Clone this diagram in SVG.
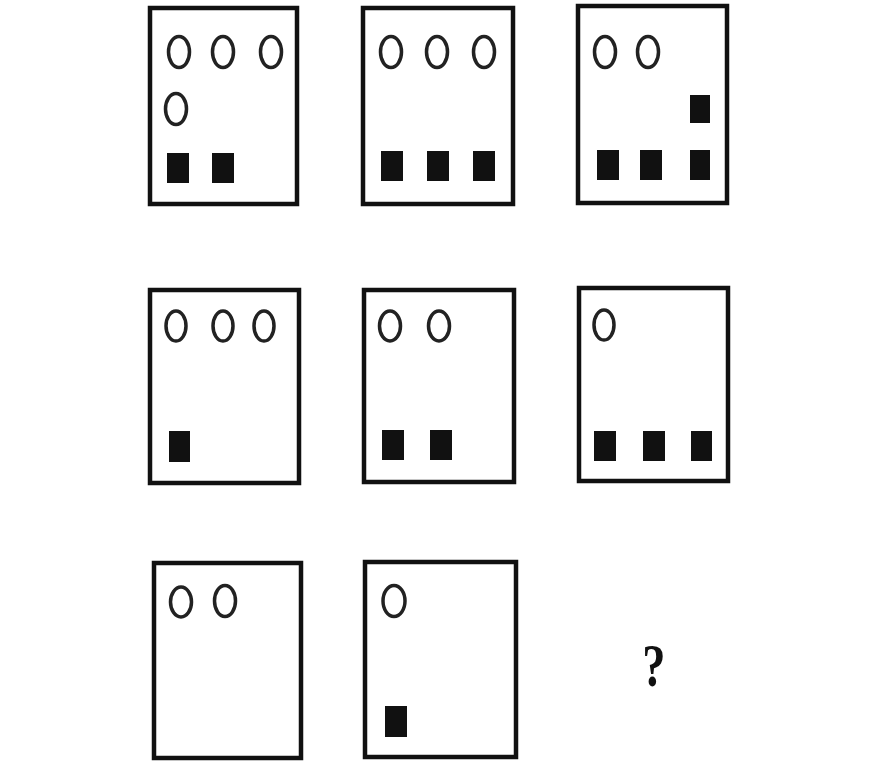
<svg xmlns="http://www.w3.org/2000/svg" width="875" height="783" viewBox="0 0 875 783">
<style>
.box{fill:#fff;stroke:#111;stroke-width:4.5}
.o{fill:none;stroke:#222;stroke-width:3.5}
.s{fill:#111}
.q{font-family:"Liberation Serif",serif;font-weight:bold;font-size:62px;fill:#111}
</style>
<rect width="875" height="783" fill="#fff"/>
<g id="p1">
<rect class="box" x="150" y="8" width="147" height="196"/>
<ellipse class="o" cx="179" cy="52" rx="10.5" ry="15.5"/>
<ellipse class="o" cx="223" cy="52" rx="10.5" ry="15.5"/>
<ellipse class="o" cx="271" cy="52" rx="10.5" ry="15.5"/>
<ellipse class="o" cx="176" cy="109" rx="10.5" ry="15.5"/>
<rect class="s" x="167" y="153" width="22" height="30"/>
<rect class="s" x="212" y="153" width="22" height="30"/>
</g>
<g id="p2">
<rect class="box" x="363" y="8" width="150" height="196"/>
<ellipse class="o" cx="391" cy="52" rx="10.5" ry="15.5"/>
<ellipse class="o" cx="437" cy="52" rx="10.5" ry="15.5"/>
<ellipse class="o" cx="484" cy="52" rx="10.5" ry="15.5"/>
<rect class="s" x="381" y="151" width="22" height="30"/>
<rect class="s" x="427" y="151" width="22" height="30"/>
<rect class="s" x="473" y="151" width="22" height="30"/>
</g>
<g id="p3">
<rect class="box" x="578" y="6" width="149" height="197"/>
<ellipse class="o" cx="605" cy="52" rx="10.5" ry="15.5"/>
<ellipse class="o" cx="648" cy="52" rx="10.5" ry="15.5"/>
<rect class="s" x="690" y="95" width="20" height="28"/>
<rect class="s" x="597" y="150" width="22" height="30"/>
<rect class="s" x="640" y="150" width="22" height="30"/>
<rect class="s" x="690" y="150" width="20" height="30"/>
</g>
<g id="p4">
<rect class="box" x="150" y="290" width="149" height="193"/>
<ellipse class="o" cx="176" cy="326" rx="10" ry="15"/>
<ellipse class="o" cx="223" cy="326" rx="10" ry="15"/>
<ellipse class="o" cx="264" cy="326" rx="10" ry="15"/>
<rect class="s" x="169" y="431" width="21" height="31"/>
</g>
<g id="p5">
<rect class="box" x="364" y="290" width="150" height="192"/>
<ellipse class="o" cx="390" cy="326" rx="10.5" ry="15"/>
<ellipse class="o" cx="439" cy="326" rx="10.5" ry="15"/>
<rect class="s" x="382" y="430" width="22" height="30"/>
<rect class="s" x="430" y="430" width="22" height="30"/>
</g>
<g id="p6">
<rect class="box" x="579" y="288" width="149" height="193"/>
<ellipse class="o" cx="604" cy="325" rx="10" ry="15"/>
<rect class="s" x="594" y="431" width="22" height="30"/>
<rect class="s" x="643" y="431" width="22" height="30"/>
<rect class="s" x="691" y="431" width="21" height="30"/>
</g>
<g id="p7">
<rect class="box" x="154" y="563" width="147" height="195"/>
<ellipse class="o" cx="181" cy="602" rx="10.5" ry="15"/>
<ellipse class="o" cx="225" cy="601" rx="10.5" ry="15.5"/>
</g>
<g id="p8">
<rect class="box" x="365" y="562" width="151" height="195"/>
<ellipse class="o" cx="394" cy="601" rx="11" ry="15.5"/>
<rect class="s" x="385" y="706" width="22" height="31"/>
</g>
<g id="q">
<text class="q" x="654" y="686" text-anchor="middle" transform="translate(654 0) scale(0.75 1) translate(-654 0)">?</text>
</g>
<g id="connectors"/>
</svg>
